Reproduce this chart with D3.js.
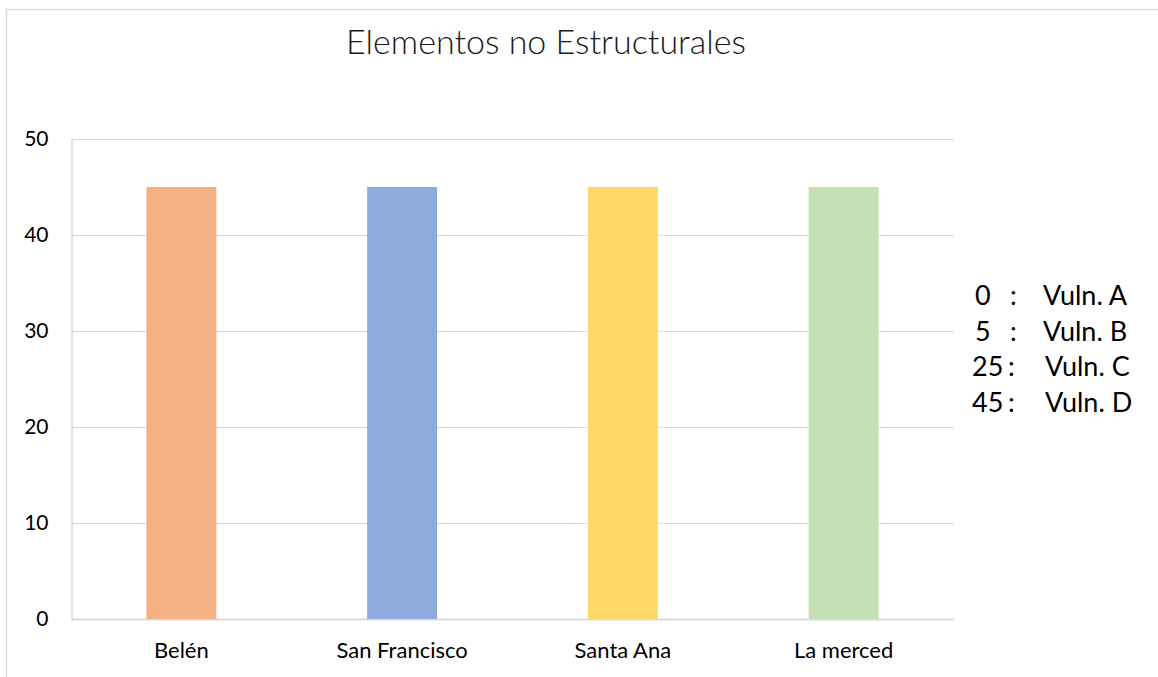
<!DOCTYPE html>
<html>
<head>
<meta charset="utf-8">
<script src="https://cdn.jsdelivr.net/npm/d3@7/dist/d3.min.js"></script>
<style>
  html, body { margin: 0; padding: 0; background: #fff; }
  svg { display: block; }
  text { font-family: Lato, "Open Sans", sans-serif; }
</style>
</head>
<body>
<svg id="chart" width="1158" height="677"></svg>
<script>
const categories = ["Belén", "San Francisco", "Santa Ana", "La merced"];
const values = [45, 45, 45, 45];
const barColors = ["#F4B183", "#8FAADC", "#FFD966", "#C5E0B4"];
const yTicks = [0, 10, 20, 30, 40, 50];
const legendValues = ["0", "5", "25", "45"];
const legendLabels = ["Vuln. A", "Vuln. B", "Vuln. C", "Vuln. D"];
const title = "Elementos no Estructurales";

const svg = d3.select("#chart");
const W = 1158, H = 677;
const margin = { left: 71, right: 1158 - 954, top: 139, bottom: 677 - 619 };

svg.append("rect").attr("x", 0).attr("y", 0).attr("width", W).attr("height", H).attr("fill", "#fff");
// chart frame
svg.append("rect").attr("x", 6.5).attr("y", 9.5).attr("width", W + 20).attr("height", H + 20)
  .attr("fill", "none").attr("stroke", "#d9d9d9").attr("stroke-width", 1.5);

const x = d3.scaleBand().domain(categories).range([margin.left, W - margin.right])
  .paddingInner(0.683).paddingOuter(0.683 / 2);
const y = d3.scaleLinear().domain([0, 50]).range([H - margin.bottom, margin.top]);

// gridlines
svg.append("g").selectAll("line").data(yTicks).join("line")
  .attr("x1", margin.left).attr("x2", W - margin.right)
  .attr("y1", d => Math.round(y(d)) + 0.5).attr("y2", d => Math.round(y(d)) + 0.5)
  .attr("stroke", "#d9d9d9").attr("stroke-width", d => d === 0 ? 2 : 1);

// y axis
const yAxis = d3.axisLeft(y).tickValues(yTicks).tickSize(0).tickPadding(23);
const gy = svg.append("g").attr("transform", `translate(${margin.left + 0.5},0)`).call(yAxis);
gy.select(".domain").attr("stroke", "#d9d9d9").attr("stroke-width", 1.5);
gy.selectAll("text").attr("font-size", 21).attr("fill", "#000").attr("font-family", "Lato, sans-serif");

// bars
svg.append("g").selectAll("rect").data(values).join("rect")
  .attr("x", (d, i) => x(categories[i]))
  .attr("width", x.bandwidth())
  .attr("y", d => y(d))
  .attr("height", d => y(0) - y(d))
  .attr("fill", (d, i) => barColors[i]);

// x axis
const xAxis = d3.axisBottom(x).tickSize(0).tickPadding(23);
const gx = svg.append("g").attr("transform", `translate(0,${y(0)})`).call(xAxis);
gx.select(".domain").remove();
gx.selectAll("text").attr("font-size", 22).attr("fill", "#000").attr("font-family", "Lato, sans-serif");

// title
svg.append("text").attr("x", 546).attr("y", 54).attr("text-anchor", "middle")
  .attr("font-size", 34).attr("font-weight", 300).attr("fill", "#1a1a1a").text(title);

// legend text
const rowY = d3.scaleLinear().domain([0, 3]).range([305, 412]);
const lg = svg.append("g");
legendValues.forEach((v, i) => {
  const yy = rowY(i);
  const numX = v.length === 1 ? 975 : 972;
  const colX = v.length === 1 ? 1010 : 1008;
  const labX = v.length === 1 ? 1043 : 1045;
  lg.append("text").attr("x", numX).attr("y", yy).attr("font-size", 27).attr("fill", "#000").text(v);
  lg.append("text").attr("x", colX).attr("y", yy).attr("font-size", 27).attr("fill", "#000").text(":");
  lg.append("text").attr("x", labX).attr("y", yy).attr("font-size", 27).attr("fill", "#000").text(legendLabels[i]);
});
</script>
</body>
</html>
